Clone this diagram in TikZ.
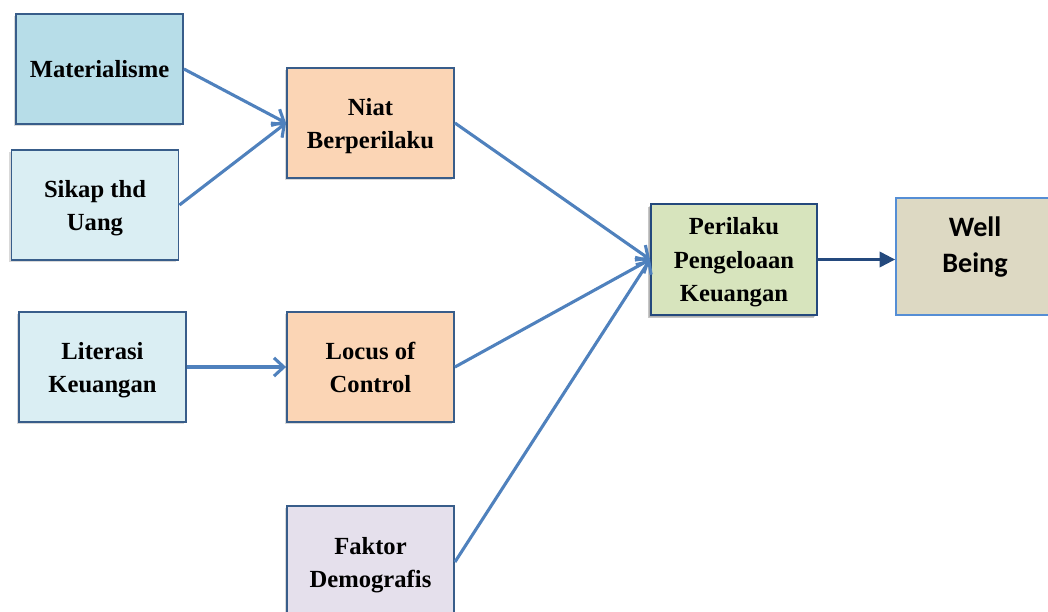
\documentclass[tikz,border=0pt]{standalone}
\usepackage{fontspec}
\setmainfont{Liberation Serif}
\newfontfamily\calibrifont{Carlito}
\usetikzlibrary{arrows.meta,shadows}
\definecolor{boxborder}{RGB}{56,93,138}
\definecolor{arrowblue}{RGB}{79,129,189}
\definecolor{darkblue}{RGB}{36,73,125}
\definecolor{wellborder}{RGB}{85,142,213}
\definecolor{bluedark}{RGB}{183,221,232}
\definecolor{bluelight}{RGB}{218,238,243}
\definecolor{peach}{RGB}{251,213,181}
\definecolor{lilac}{RGB}{229,224,236}
\definecolor{sage}{RGB}{215,228,189}
\definecolor{khaki}{RGB}{221,217,195}

\begin{document}
\begin{tikzpicture}[x=0.025cm, y=-0.025cm,
    variabel/.style={rectangle, draw=boxborder, line width=1.3pt, align=center,
                     minimum width=4.175cm, minimum height=2.75cm, text depth=0pt,
                     font=\fontsize{17.5}{23.5}\selectfont\bfseries,
                     drop shadow={shadow xshift=-1.5pt, shadow yshift=-1.5pt, opacity=0.3}},
    hasil/.style={rectangle, draw=wellborder, line width=1.3pt, align=center,
                  minimum width=3.95cm, minimum height=2.925cm, text depth=0.6cm,
                  font=\fontsize{20}{25.5}\selectfont\calibrifont\bfseries},
    panah/.style={-{Straight Barb[length=7pt,width=13pt]}, line width=2.2pt, arrowblue}
]
    \useasboundingbox (0,0) rectangle (1048,612);

    % Variabel bebas
    \node[variabel, fill=bluedark] (mat) at (99.5,69) {Materialisme};
    \node[variabel, fill=bluelight] (sikap) at (95,205) {Sikap thd\\Uang};
    \node[variabel, fill=bluelight] (lit) at (102.5,367) {Literasi\\Keuangan};

    % Variabel antara
    \node[variabel, fill=peach] (niat) at (370.5,123) {Niat\\Berperilaku};
    \node[variabel, fill=peach] (loc) at (370.5,367) {Locus of\\Control};
    \node[variabel, fill=lilac, minimum height=2.8cm] (fak) at (370.5,562) {Faktor\\Demografis};

    % Perilaku dan hasil
    \node[variabel, fill=sage, draw=darkblue, minimum width=4.15cm, minimum height=2.775cm,
          drop shadow={shadow xshift=-2pt, shadow yshift=-2pt, opacity=0.45}] (per) at (734,259.5)
          {Perilaku\\Pengeloaan\\Keuangan};
    \node[hasil, fill=khaki] (well) at (975,256.5) {Well\\Being};

    % Panah
    \draw[panah] (mat.east) -- (niat.west);
    \draw[panah] (sikap.east) -- (niat.west);
    \draw[panah] (lit.east) -- (loc.west);
    \draw[panah] (niat.east) -- (per.west);
    \draw[panah] (loc.east) -- (per.west);
    \draw[panah] (fak.east) -- (per.west);
    \draw[-{Triangle[length=11pt,width=11pt]}, line width=1.6pt, darkblue] (per.east) -- (per.east -| well.west);
\end{tikzpicture}
\end{document}
